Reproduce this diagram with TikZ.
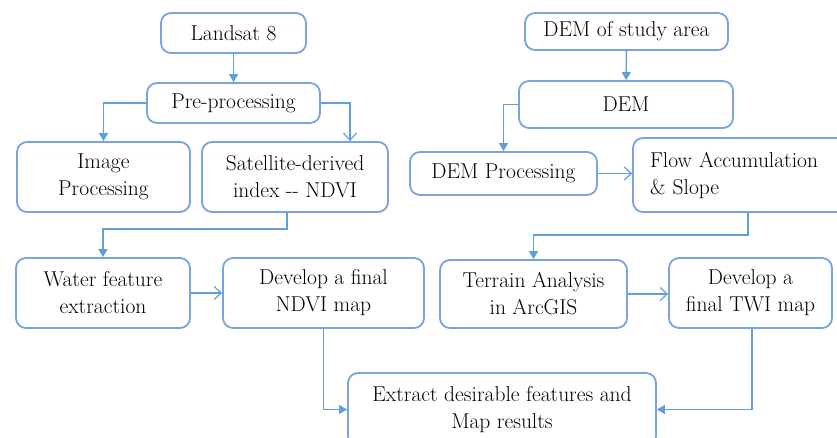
\documentclass[tikz,border=0pt]{standalone}
\usetikzlibrary{arrows.meta}
\definecolor{boxblue}{RGB}{122,162,222}
\definecolor{arrblue}{RGB}{98,158,218}
\begin{document}
\begin{tikzpicture}[x=1pt,y=-1pt,
  box/.style={draw=boxblue, line width=1.8pt, rounded corners=10pt, inner sep=0pt, align=center, font=\fontsize{21.5}{27}\selectfont, text=black},
  arrF/.style={draw=arrblue, line width=1.4pt, -{Triangle[width=9pt,length=8pt]}},
  arrO/.style={draw=arrblue, line width=1.4pt, -{Straight Barb[width=13pt,length=7pt,line width=1.2pt]}}]
\useasboundingbox (0,0) rectangle (837,438);
% left branch
\node[box, minimum width=145pt, minimum height=40pt] (land) at (233.5,33) {Landsat 8};
\node[box, minimum width=173pt, minimum height=40pt] (pre) at (233.5,103) {Pre-processing};
\node[box, minimum width=173pt, minimum height=70pt] (imgp) at (103.5,177) {Image\\Processing};
\node[box, minimum width=186pt, minimum height=70pt] (sat) at (295,177) {Satellite-derived\\index -{}- NDVI};
\node[box, minimum width=174pt, minimum height=70pt] (water) at (103,293) {Water feature\\extraction};
\node[box, minimum width=201pt, minimum height=70pt] (ndvi) at (323.5,293) {Develop a final\\NDVI map};
\node[box, minimum width=308pt, minimum height=73pt] (ext) at (502,409.5) {Extract desirable features and\\Map results};
% right branch
\node[box, minimum width=203pt, minimum height=37pt] (dema) at (626.5,31.5) {DEM of study area};
\node[box, minimum width=214pt, minimum height=47pt] (dem) at (626,104.5) {DEM};
\node[box, minimum width=187pt, minimum height=43pt] (demp) at (503.5,173.5) {DEM Processing};
\node[box, minimum height=74pt, text width=196pt, inner xsep=17pt, align=left] (flow) at (748,175) {Flow Accumulation\\\& Slope};
\node[box, minimum width=187pt, minimum height=68pt] (terr) at (533.5,294) {Terrain Analysis\\in ArcGIS};
\node[box, minimum width=163pt, minimum height=70pt] (twi) at (750.5,293) {Develop a\\final TWI map};
% connectors
\draw[arrF] (land) -- (pre);
\draw[arrF] (pre.west) -| (imgp.north);
\draw[arrO] (pre.east) -| ([xshift=55pt]sat.north);
\draw[arrF] ([xshift=-8pt]sat.south) -- ++(0,16) -| (water.north);
\draw[arrO] (water.east) -- (ndvi.west);
\draw[arrF] (ndvi.south) |- (ext.west);
\draw[arrF] ([xshift=1.5pt]twi.south) |- (ext.east);
\draw[arrF] (dema) -- (dem);
\draw[arrF] (dem.west) -| (demp.north);
\draw[arrO] (demp.east) -- (demp.east -| flow.west);
\draw[arrF] ([xshift=0pt]flow.south) -- ++(0,22) -| (terr.north);
\draw[arrO] (terr.east) -- (terr.east -| twi.west);
\end{tikzpicture}
\end{document}
